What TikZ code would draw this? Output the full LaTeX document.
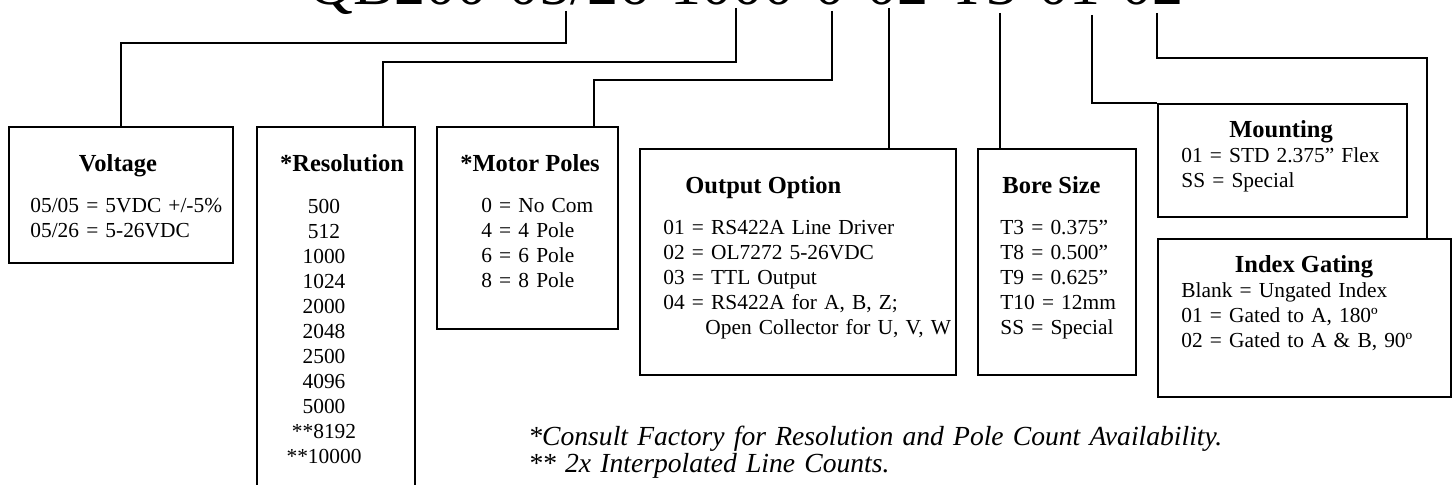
\documentclass[tikz,border=0pt]{standalone}
\usepackage{fontspec}
\setmainfont{Liberation Serif}
\usetikzlibrary{calc,positioning}

\begin{document}
\begin{tikzpicture}[
    x=0.5pt, y=-0.5pt,
    field/.style={draw=black, line width=0.9pt, inner sep=0pt, anchor=north west},
    head/.style={font=\fontsize{12.25}{14}\selectfont\bfseries, inner sep=0pt, anchor=base},
    item/.style={font=\fontsize{10.7}{12.5}\selectfont, inner sep=0pt, anchor=base west, text width=150pt, align=left},
    note/.style={font=\fontsize{13.8}{13.5}\selectfont\itshape, inner sep=0pt, anchor=base west, text width=420pt, align=left},
    link/.style={line width=0.65pt}
]
    \useasboundingbox (0,0) rectangle (1454,485);
    \clip (0,0) rectangle (1454,485);

    % part number
    \node[anchor=base west, inner sep=0pt, font=\fontsize{31}{31}\selectfont] (code) at (308,4.5) {QB200-05/26-1000-0-02-T3-01-02};

    % option boxes
    \node[field, minimum width=112pt, minimum height=68pt] (volt) at (8,126) {};
    \node[field, minimum width=79pt, minimum height=187pt] (res) at (256,126) {};
    \node[field, minimum width=90.5pt, minimum height=101pt] (poles) at (436,126) {};
    \node[field, minimum width=158pt, minimum height=113pt] (outopt) at (639,148) {};
    \node[field, minimum width=79pt, minimum height=113pt] (bore) at (977,148) {};
    \node[field, minimum width=124.5pt, minimum height=56.5pt] (mount) at (1157,103) {};
    \node[field, minimum width=146.5pt, minimum height=79pt] (gate) at (1157,238) {};

    % box texts
    \node[head] (voltHead) at (118,172) {Voltage};
    \node[item] (voltList) at (30,213) {05/05 = 5VDC +/-5\%\\05/26 = 5-26VDC};
    \node[head] (resHead) at (342,172) {*Resolution};
    \node[item, anchor=base, text width=60pt, align=center] (resList) at (324,214)
        {500\\512\\1000\\1024\\2000\\2048\\2500\\4096\\5000\\{}**8192\\{}**10000};
    \node[head] (polesHead) at (530,172) {*Motor Poles};
    \node[item] (polesList) at (481,213) {0 = No Com\\4 = 4 Pole\\6 = 6 Pole\\8 = 8 Pole};
    \node[head, anchor=base west] (outHead) at (685,194) {Output Option};
    \node[item] (outList) at (663,235) {01 = RS422A Line Driver\\02 = OL7272 5-26VDC\\03 = TTL Output\\04 = RS422A for A, B, Z;\\\hspace*{21pt}Open Collector for U, V, W};
    \node[head, anchor=base west] (boreHead) at (1002,194) {Bore Size};
    \node[item] (boreList) at (1000,235) {T3 = 0.375''\\T8 = 0.500''\\T9 = 0.625''\\T10 = 12mm\\SS = Special};
    \node[head] (mountHead) at (1281,138) {Mounting};
    \node[item] (mountList) at (1181,163) {01 = STD 2.375'' Flex\\SS = Special};
    \node[head] (gateHead) at (1304,273) {Index Gating};
    \node[item] (gateList) at (1181,298) {Blank = Ungated Index\\01 = Gated to A, 180º\\02 = Gated to A \& B, 90º};

    % footnotes
    \node[note] (notes) at (528,445) {*Consult Factory for Resolution and Pole Count Availability.\\{}** 2x Interpolated Line Counts.};

    % leader lines from the part number
    \coordinate (tVolt) at (566,11);
    \coordinate (kVolt) at (566,43);
    \coordinate (tRes) at (736,8);
    \coordinate (dRes) at (383,62);
    \coordinate (tPole) at (832,11);
    \coordinate (dPole) at (594,80);
    \coordinate (tOut) at (889,8);
    \coordinate (tBore) at (1000,13);
    \coordinate (tMount) at (1092,15);
    \coordinate (tGate) at (1157,13);
    \coordinate (dGate) at (1427,58);
    \draw[link] (tVolt) -- (kVolt) -| (volt.north);
    \draw[link] (tRes) |- (dRes) -- (dRes |- res.north);
    \draw[link] (tPole) |- (dPole) -- (dPole |- poles.north);
    \draw[link] (tOut) -- (tOut |- outopt.north);
    \draw[link] (tBore) -- (tBore |- bore.north);
    \draw[link] (tMount) |- (mount.north west);
    \draw[link] (tGate) |- (dGate) -- (dGate |- gate.north);
\end{tikzpicture}
\end{document}
